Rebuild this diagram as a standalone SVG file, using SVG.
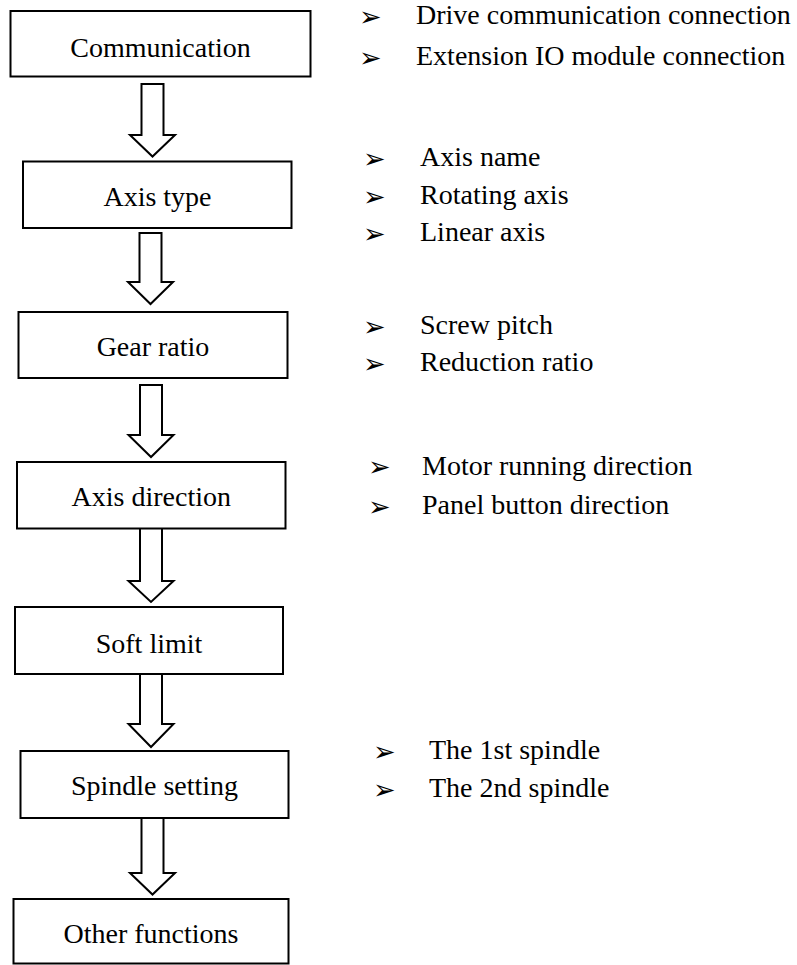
<svg xmlns="http://www.w3.org/2000/svg" width="797" height="965" viewBox="0 0 797 965">
  <style>
    .box { fill: #ffffff; stroke: #000000; stroke-width: 2; }
    .flow { fill: #ffffff; stroke: #000000; stroke-width: 2; stroke-linejoin: miter; }
    .label { font-family: "Liberation Serif", "Times New Roman", serif; font-size: 28px; fill: #000000; }
    .center { text-anchor: middle; }
    .bullet { font-family: "DejaVu Sans", sans-serif; font-size: 27px; fill: #000000; }
  </style>
  <rect width="797" height="965" fill="#ffffff"/>

  <!-- block arrows between steps -->
  <g id="connectors">
    <polygon class="flow" points="141.5,84 163.5,84 163.5,135 175,135 152.5,156.5 130,135 141.5,135"/>
    <polygon class="flow" points="139.5,233 161.5,233 161.5,282 173,282 150.5,304 128,282 139.5,282"/>
    <polygon class="flow" points="140,385 162,385 162,435 173.5,435 151,457 128.5,435 140,435"/>
    <polygon class="flow" points="140,528 162,528 162,581 173.5,581 151,602 128.5,581 140,581"/>
    <polygon class="flow" points="140,674 162,674 162,724 173.5,724 151,747 128.5,724 140,724"/>
    <polygon class="flow" points="141.5,818 163.5,818 163.5,873 175,873 152.5,894.5 130,873 141.5,873"/>
  </g>

  <g id="communication">
    <rect class="box" x="10.5" y="11" width="300" height="65.5"/>
    <text class="label center" x="160.5" y="57">Communication</text>
  </g>
  <g id="axis-type">
    <rect class="box" x="23" y="161.5" width="268.5" height="66.5"/>
    <text class="label center" x="157.5" y="205.5">Axis type</text>
  </g>
  <g id="gear-ratio">
    <rect class="box" x="18.5" y="312" width="269" height="66"/>
    <text class="label center" x="153" y="356">Gear ratio</text>
  </g>
  <g id="axis-direction">
    <rect class="box" x="17" y="462" width="268.5" height="66.5"/>
    <text class="label center" x="151.3" y="506">Axis direction</text>
  </g>
  <g id="soft-limit">
    <rect class="box" x="15" y="607" width="268" height="67"/>
    <text class="label center" x="149" y="652.5">Soft limit</text>
  </g>
  <g id="spindle-setting">
    <rect class="box" x="20.5" y="751" width="268" height="67"/>
    <text class="label center" x="154.5" y="795">Spindle setting</text>
  </g>
  <g id="other-functions">
    <rect class="box" x="13.5" y="899" width="275" height="64.5"/>
    <text class="label center" x="151" y="943.3">Other functions</text>
  </g>

  <!-- bullet notes beside the steps -->
  <g id="notes-communication">
    <text class="bullet" x="359" y="26">➢</text>
    <text class="label" x="416" y="24">Drive communication connection</text>
    <text class="bullet" x="359" y="67">➢</text>
    <text class="label" x="416" y="65">Extension IO module connection</text>
  </g>
  <g id="notes-axis-type">
    <text class="bullet" x="363" y="168">➢</text>
    <text class="label" x="420" y="166">Axis name</text>
    <text class="bullet" x="363" y="205.5">➢</text>
    <text class="label" x="420" y="203.5">Rotating axis</text>
    <text class="bullet" x="363" y="243">➢</text>
    <text class="label" x="420" y="241">Linear axis</text>
  </g>
  <g id="notes-gear-ratio">
    <text class="bullet" x="363" y="336">➢</text>
    <text class="label" x="420" y="334">Screw pitch</text>
    <text class="bullet" x="363" y="373">➢</text>
    <text class="label" x="420" y="371">Reduction ratio</text>
  </g>
  <g id="notes-axis-direction">
    <text class="bullet" x="368" y="476">➢</text>
    <text class="label" x="422" y="474.5">Motor running direction</text>
    <text class="bullet" x="368" y="515.5">➢</text>
    <text class="label" x="422" y="513.5">Panel button direction</text>
  </g>
  <g id="notes-spindle">
    <text class="bullet" x="373" y="761">➢</text>
    <text class="label" x="429" y="759">The 1st spindle</text>
    <text class="bullet" x="373" y="799">➢</text>
    <text class="label" x="429" y="797">The 2nd spindle</text>
  </g>
</svg>
